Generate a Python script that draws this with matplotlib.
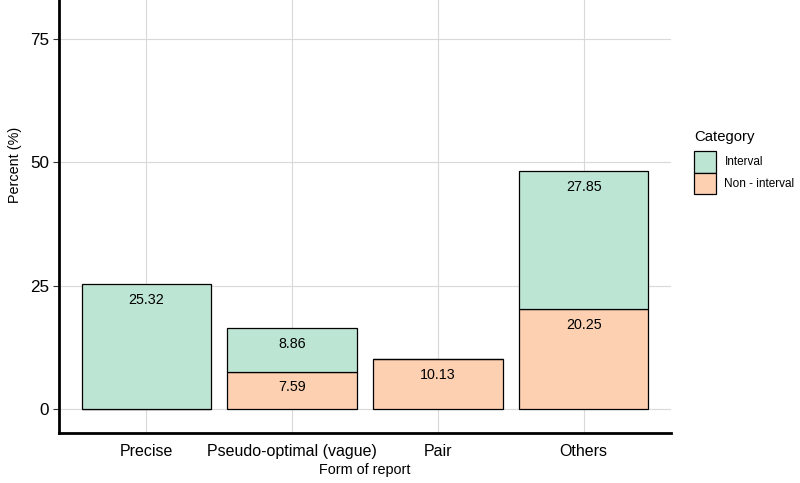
import matplotlib
matplotlib.use("Agg")
import matplotlib.pyplot as plt
from matplotlib.patches import Patch
import numpy as np

plt.rcParams['font.family'] = ['Liberation Sans', 'DejaVu Sans']

categories = ["Precise", "Pseudo-optimal (vague)", "Pair", "Others"]
non_interval = [0.0, 7.59, 10.13, 20.25]
interval = [25.32, 8.86, 0.0, 27.85]
series_names = ["Interval", "Non - interval"]
colors = {"Interval": "#BDE5D4", "Non - interval": "#FDD0B1"}

fig = plt.figure(figsize=(8, 4.83), dpi=100)
ax = fig.add_axes([59/800, 50/483, 612/800, 433/483])

x = np.arange(1, len(categories) + 1)
w = 0.89
ni = np.array(non_interval)
iv = np.array(interval)

ax.bar(x, ni, width=w, color=colors["Non - interval"], edgecolor="black", linewidth=0.9, zorder=3)
ax.bar(x, iv, width=w, bottom=ni, color=colors["Interval"], edgecolor="black", linewidth=0.9, zorder=3)

for xi, n, v in zip(x, ni, iv):
    if n > 0:
        ax.text(xi, n - 3.2, f"{n:.2f}", ha="center", va="center", fontsize=10.3, zorder=4)
    if v > 0:
        ax.text(xi, n + v - 3.2, f"{v:.2f}", ha="center", va="center", fontsize=10.3, zorder=4)

ax.set_xlim(0.4, 4.6)
ax.set_ylim(-4.86, 82.8)
ax.set_yticks([0, 25, 50, 75])
ax.set_xticks(x)
ax.set_xticklabels(categories)
ax.tick_params(axis="x", length=0, labelsize=11.5, pad=8, colors="black")
ax.tick_params(axis="y", length=4, width=0.8, labelsize=12.3, labelcolor="black", color="#333333", pad=3)

ax.grid(True, color="#d9d9d9", linewidth=0.8, zorder=0)
ax.set_axisbelow(True)
for s in ["top", "right"]:
    ax.spines[s].set_visible(False)
for s in ["left", "bottom"]:
    ax.spines[s].set_linewidth(2)
    ax.spines[s].set_color("black")

ax.set_xlabel("Form of report", fontsize=10.4, labelpad=3)
ax.set_ylabel("Percent (%)", fontsize=10.4)
ax.yaxis.set_label_coords(-37/612, (433 - 165) / 433)

fig.text(694/800, 1 - 137/483, "Category", fontsize=10.7, ha="left", va="center")
handles = [Patch(facecolor=colors[n], edgecolor="black", linewidth=0.9) for n in series_names]
leg = fig.legend(handles, series_names, loc="upper left",
                 bbox_to_anchor=(694/800, 1 - 151/483), frameon=False,
                 fontsize=8.5, handlelength=1.88, handleheight=2.45,
                 labelspacing=0.0, handletextpad=0.7, borderaxespad=0, borderpad=0)

fig.savefig("out.png", dpi=100)
